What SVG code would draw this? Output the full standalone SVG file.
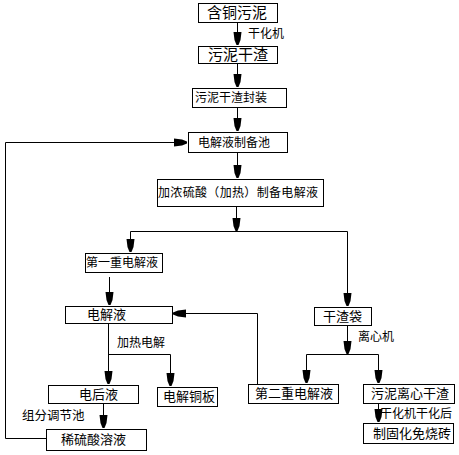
<svg xmlns="http://www.w3.org/2000/svg" width="459" height="455" viewBox="0 0 459 455">
<style>
rect{fill:#fff;stroke:#000;stroke-width:1}
.c path{fill:none;stroke:#000;stroke-width:1;marker-end:url(#ah)}
.c path.n{marker-end:none}
text{font-family:"Noto Sans CJK SC","Noto Sans",sans-serif;font-size:13px;fill:#000}
.s{font-size:12px}
.b{font-size:15px}
</style>
<defs>
<marker id="ah" markerUnits="userSpaceOnUse" markerWidth="16" markerHeight="10" viewBox="0 -5 16 10" refX="13" refY="0" orient="auto">
<path d="M0,-4 L8,-3 L13,-1 L13,1 L8,3 L0,4 Z" fill="#000"/>
</marker>
</defs>
<rect fill="#fff" x="0" y="0" width="459" height="455" style="stroke:none"/>
<g class="c" id="connectors">
<path d="M237.5,22 V45"/>
<path d="M237.5,63 V87"/>
<path d="M237.5,107 V131"/>
<path d="M237.5,152 V178"/>
<path d="M236.5,206 V231"/>
<path class="n" d="M130.5,231.5 H347.5"/>
<path d="M130.5,231.5 V252"/>
<path d="M347.5,231.5 V306"/>
<path d="M109.5,277 V305"/>
<path d="M108.5,323 V384"/>
<path d="M108.5,354.5 H170.5 V386"/>
<path d="M257.5,384 V313.5 H173"/>
<path d="M347.5,325 V354"/>
<path class="n" d="M306.5,354.5 H378.5"/>
<path d="M306.5,354.5 V383"/>
<path d="M378.5,354.5 V383"/>
<path d="M378.5,403 V422"/>
<path d="M103.5,403 V428"/>
<path d="M46,438.5 H5.5 V142.5 H187"/>
</g>
<g id="n1"><rect x="198.5" y="3.5" width="79" height="19"/><text class="b" x="207" y="18">含铜污泥</text></g>
<g id="l1"><text class="s" x="248" y="38">干化机</text></g>
<g id="n2"><rect x="198.5" y="46.5" width="79" height="17"/><text class="b" x="208" y="60">污泥干渣</text></g>
<g id="n3"><rect x="192.5" y="88.5" width="94" height="19"/><text class="s" x="195" y="102">污泥干渣封装</text></g>
<g id="n4"><rect x="188.5" y="132.5" width="99" height="20"/><text class="s" x="198" y="147">电解液制备池</text></g>
<g id="n5"><rect x="157.5" y="179.5" width="166" height="27"/><text class="s" x="158" y="197" textLength="160" lengthAdjust="spacing">加浓硫酸（加热）制备电解液</text></g>
<g id="n6"><rect x="85.5" y="253.5" width="77" height="19"/><text class="s" x="86" y="267">第一重电解液</text></g>
<g id="n7"><rect x="65.5" y="306.5" width="107" height="17"/><text x="87" y="319">电解液</text></g>
<g id="l2"><text class="s" x="117" y="347">加热电解</text></g>
<g id="n8"><rect x="48.5" y="385.5" width="90" height="18"/><text x="79" y="399">电后液</text></g>
<g id="n9"><rect x="157.5" y="387.5" width="60" height="19"/><text x="163" y="401">电解铜板</text></g>
<g id="l3"><text class="s" x="22" y="420" style="font-size:12.5px">组分调节池</text></g>
<g id="n10"><rect x="46.5" y="429.5" width="100" height="21"/><text x="61" y="444">稀硫酸溶液</text></g>
<g id="n11"><rect x="314.5" y="307.5" width="57" height="18"/><text x="323" y="321">干渣袋</text></g>
<g id="l4"><text class="s" x="358" y="341">离心机</text></g>
<g id="n12"><rect x="248.5" y="384.5" width="90" height="19"/><text x="255" y="398">第二重电解液</text></g>
<g id="n13"><rect x="363.5" y="384.5" width="91" height="19"/><text x="371" y="398">污泥离心干渣</text></g>
<g id="l5"><text class="s" x="380" y="418">干化机干化后</text></g>
<g id="n14"><rect x="363.5" y="423.5" width="90" height="20"/><text x="373" y="438">制固化免烧砖</text></g>
</svg>
